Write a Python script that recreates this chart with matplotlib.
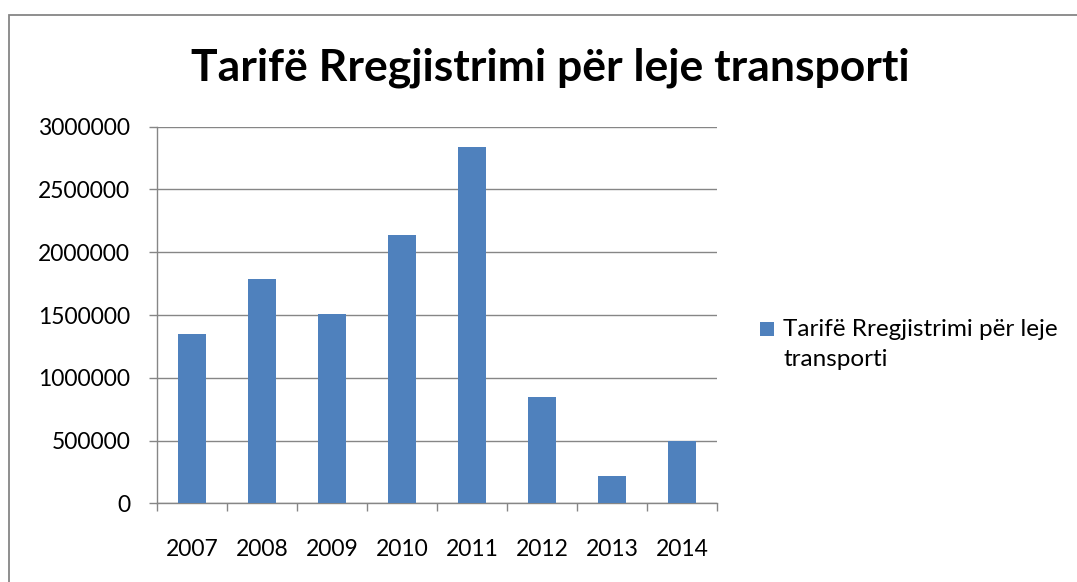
import matplotlib
matplotlib.use("Agg")
import matplotlib.pyplot as plt
from matplotlib.patches import Rectangle
import numpy as np

years = ["2007", "2008", "2009", "2010", "2011", "2012", "2013", "2014"]
values = [1346000, 1784000, 1505000, 2137000, 2838000, 847000, 215000, 496000]
yticks = [0, 500000, 1000000, 1500000, 2000000, 2500000, 3000000]
series_name = "Tarifë Rregjistrimi për leje transporti"
title = "Tarifë Rregjistrimi për leje transporti"

FONT = "Lato"
bar_color = "#4F81BD"
axis_gray = "#868686"

fig = plt.figure(figsize=(10.77, 5.82), dpi=100)
fig.patch.set_facecolor("white")

# outer chart border (extends beyond right/bottom)
fig.add_artist(Rectangle((9 / 1077, -0.05), 1.2, 1 - 14.5 / 582 + 0.05,
                         transform=fig.transFigure, fill=False,
                         edgecolor=axis_gray, linewidth=1.3))

ax = fig.add_axes([157.3 / 1077, 1 - 503.3 / 582, 560 / 1077, 376.6 / 582])
x = np.arange(len(years))
ax.bar(x, values, width=0.4, color=bar_color, zorder=3)

ax.set_xlim(-0.5, len(years) - 0.5)
ax.set_ylim(0, 3000000)
ax.set_yticks(yticks)
ax.set_yticklabels([str(v) for v in yticks], fontfamily=FONT, fontsize=16.5)
ax.set_xticks(x)
ax.set_xticklabels(years, fontfamily=FONT, fontsize=16.5)
ax.set_xticks(np.arange(-0.5, len(years)), minor=True)
ax.tick_params(axis="x", which="major", length=0, pad=26)
ax.tick_params(axis="x", which="minor", length=6, width=1, color=axis_gray, direction="out")
ax.tick_params(axis="y", length=6, width=1, color=axis_gray, pad=13.5)

ax.yaxis.grid(True, color=axis_gray, linewidth=1.0, zorder=0)
ax.set_axisbelow(True)
for s in ["top", "right"]:
    ax.spines[s].set_visible(False)
for s in ["left", "bottom"]:
    ax.spines[s].set_color(axis_gray)
    ax.spines[s].set_linewidth(1.0)

fig.text(550 / 1077, 1 - 68 / 582, title, ha="center", va="center",
         fontfamily=FONT, fontweight="bold", fontsize=32)

# legend
fig.add_artist(Rectangle((760 / 1077, 1 - 336 / 582), 14 / 1077, 14 / 582,
                         transform=fig.transFigure, facecolor=bar_color, edgecolor="none"))
fig.text(783 / 1077, 1 - 329 / 582, "Tarifë Rregjistrimi për leje", ha="left", va="center",
         fontfamily=FONT, fontsize=17.5)
fig.text(783 / 1077, 1 - 360 / 582, "transporti", ha="left", va="center",
         fontfamily=FONT, fontsize=17.5)

fig.savefig("out.png", dpi=100)
